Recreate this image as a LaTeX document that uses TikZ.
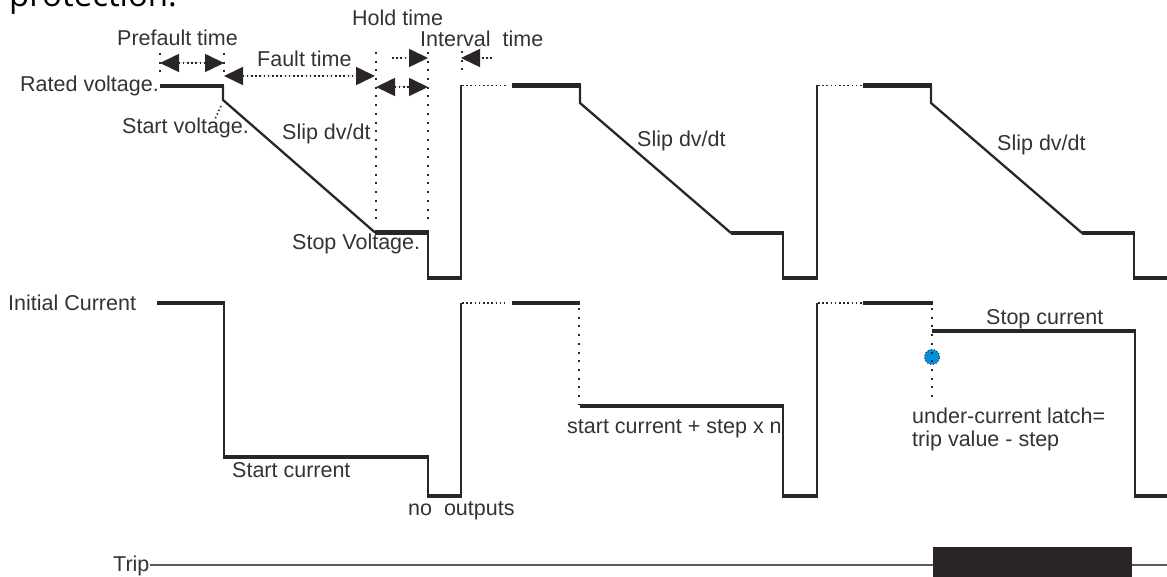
\documentclass[tikz,border=0pt]{standalone}
\usepackage{fontspec}
\setmainfont{Liberation Sans}
\newfontfamily\headfont{Open Sans}
\usetikzlibrary{arrows.meta}
\definecolor{ink}{RGB}{43,37,38}
\definecolor{txt}{RGB}{51,51,51}
\definecolor{tripgray}{RGB}{90,90,90}
\definecolor{dotblue}{RGB}{0,146,221}
\begin{document}
\begin{tikzpicture}[x=1pt,y=-1pt,
  lbl/.style={inner sep=0pt, anchor=base west, text=txt, font=\fontsize{21.5}{23}\selectfont},
  thinw/.style={draw=ink, line width=2.3pt},
  thickw/.style={draw=ink, line width=4.8pt},
  guide/.style={draw=ink, line width=2pt, dash pattern=on 2pt off 6.7pt},
  dotln/.style={draw=ink, line width=1.6pt, dash pattern=on 1.6pt off 2.6pt},
  tipR/.style={-{Triangle[length=19pt,width=18pt]}},
  tipLR/.style={{Triangle[length=19pt,width=18pt]}-{Triangle[length=19pt,width=18pt]}}
]
\useasboundingbox (0,0) rectangle (1167,577);
\clip (0,0) rectangle (1167,577);

% cut-off heading
\node[anchor=base west, inner sep=0pt, font=\headfont\fontsize{33}{33}\selectfont, text=black] (head) at (9,7) {protection.};

% ---------- labels ----------
\node[lbl] (rated)   at (20,92)   {Rated voltage.};
\node[lbl] (startv)  at (122,134) {Start voltage.};
\node[lbl] (slip1)   at (282,140) {Slip dv/dt};
\node[lbl] (stopv)   at (292,250) {Stop Voltage.};
\node[lbl] (slip2)   at (637,147) {Slip dv/dt};
\node[lbl] (slip3)   at (997,151) {Slip dv/dt};
\node[lbl] (prefault) at (117,46) {Prefault time};
\node[lbl] (fault)   at (257,67)  {Fault time};
\node[lbl] (hold)    at (352,26)  {Hold time};
\node[lbl] (interval) at (420,47) {Interval\ \ time};
\node[lbl] (initc)   at (8,311)   {Initial Current};
\node[lbl] (startc)  at (232,477) {Start current};
\node[lbl] (noout)   at (408,515) {no\ \ outputs};
\node[lbl] (stepc)   at (567,433) {start current + step x n};
\node[lbl] (stopc)   at (986,324) {Stop current};
\node[lbl] (latch1)  at (912,423) {under-current latch=};
\node[lbl] (latch2)  at (912,446) {trip value - step};
\node[lbl] (trip)    at (113,571) {Trip};

% ---------- guide coordinates ----------
\coordinate (gA) at (160,63);  \coordinate (gB) at (224,63);
\coordinate (fA) at (224,76);  \coordinate (fB) at (375,76);
\coordinate (hA) at (392,58);  \coordinate (hB) at (428,58);
\coordinate (iA) at (461,58);  \coordinate (iB) at (492,58);
\coordinate (kA) at (376,87);  \coordinate (kB) at (428,87);

% dotted vertical guides
\draw[guide] (160,53) -- (160,75);
\draw[guide] (224,53) -- (224,75);
\draw[guide] (376,52) -- (376,222);
\draw[guide] (428,52) -- (428,222);
\draw[guide] (462,51) -- (462,75);

% dimension arrows
\draw[dotln, tipLR, fill=ink] (gA) -- (gB);
\draw[dotln, tipLR, fill=ink] (fA) -- (fB);
\draw[dotln, tipR, fill=ink] (hA) -- (hB);
\draw[dotln, tipR, fill=ink] (iB) -- (iA);
\draw[dotln, tipLR, fill=ink] (kA) -- (kB);

% start voltage leader
\draw[draw=ink, line width=1.5pt, dash pattern=on 1.5pt off 2.5pt] (221,106) -- (215,119);

% ---------- voltage waveform ----------
\draw[thinw] (223,86) -- (223,100) -- (375,232.5);
\draw[thinw] (428,232.5) -- (428,278);
\draw[thinw] (461,278) -- (461,85.5);
\draw[thinw] (580,85.5) -- (580,103) -- (731,233);
\draw[thinw] (783,233) -- (783,278);
\draw[thinw] (817,278) -- (817,85.5);
\draw[thinw] (931,85.5) -- (931,103) -- (1082,233);
\draw[thinw] (1134,233) -- (1134,278);

\draw[thickw] (160,86) -- (224,86);
\draw[thickw] (375,232.5) -- (429,232.5);
\draw[thickw] (427,278) -- (462,278);
\draw[thickw] (512,85.5) -- (581,85.5);
\draw[thickw] (731,233) -- (784,233);
\draw[thickw] (782,278) -- (818,278);
\draw[thickw] (863,85.5) -- (932,85.5);
\draw[thickw] (1082,233) -- (1135,233);
\draw[thickw] (1133,278) -- (1167,278);

\draw[dotln] (462,85.5) -- (506,85.5);
\draw[dotln] (818,85.5) -- (862,85.5);

% ---------- current waveform ----------
\draw[thinw] (224,303) -- (224,457);
\draw[thinw] (428,457) -- (428,496);
\draw[thinw] (461,496) -- (461,303);
\draw[thinw] (783,406) -- (783,496);
\draw[thinw] (817,496) -- (817,303);
\draw[thinw] (1135,331) -- (1135,496);

\draw[thickw] (157,303) -- (225,303);
\draw[thickw] (223,457) -- (429,457);
\draw[thickw] (427,496) -- (462,496);
\draw[thickw] (512,303) -- (580,303);
\draw[thickw] (580,406) -- (784,406);
\draw[thickw] (782,496) -- (818,496);
\draw[thickw] (863,303) -- (933,303);
\draw[thickw] (932,331) -- (1136,331);
\draw[thickw] (1134,496) -- (1167,496);

\draw[dotln] (462,303) -- (505,303);
\draw[dotln] (818,303) -- (862,303);

\node[circle, fill=dotblue, draw=ink, dotted, line width=1pt, minimum size=15pt, inner sep=0pt] (latchdot) at (932,357) {};
\draw[guide] (579,308) -- (579,405);
\draw[guide] (932,308) -- (932,403);

% ---------- trip ----------
\draw[draw=tripgray, line width=2pt] (trip.east |- 0,565) -- (1167,565);
\fill[ink] (933,547) rectangle (1132,582);
\end{tikzpicture}
\end{document}
